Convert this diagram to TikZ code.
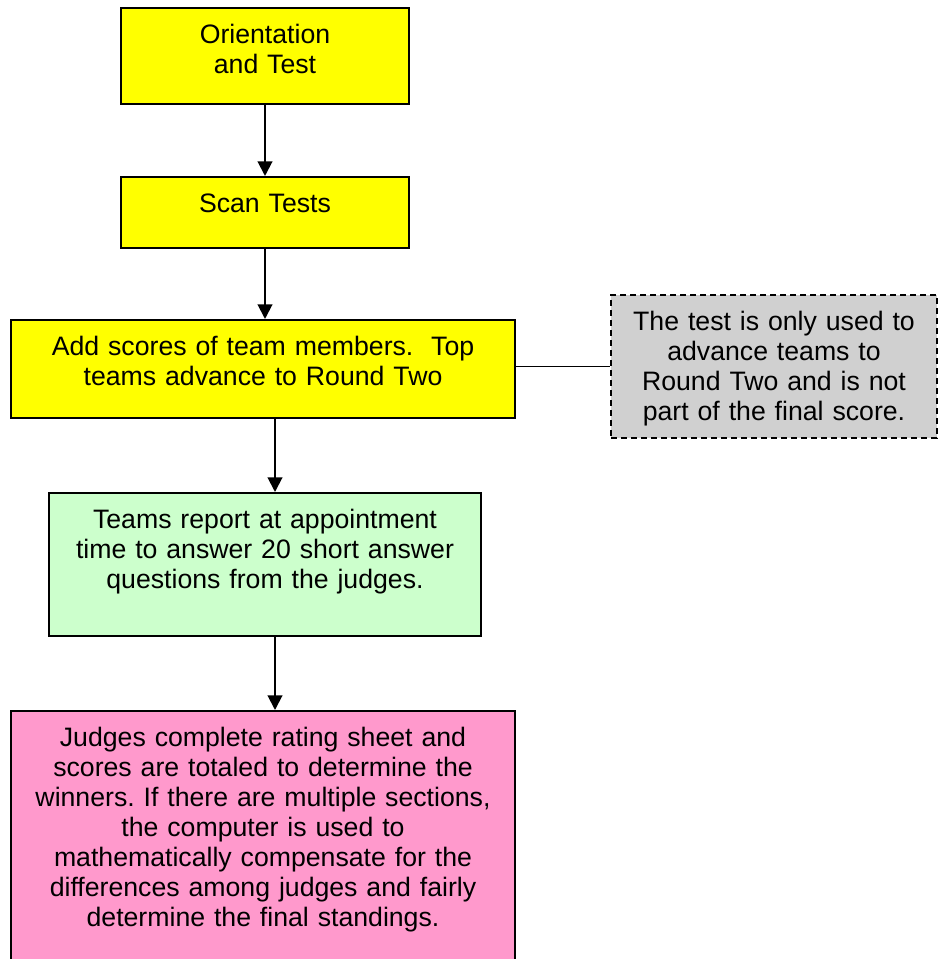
\documentclass[tikz,border=0pt]{standalone}
\usepackage{fontspec}
\setmainfont{Liberation Sans}
\usepackage{tikz}
\usetikzlibrary{positioning,arrows.meta}
\definecolor{stepyellow}{RGB}{255,255,0}
\definecolor{stepgreen}{RGB}{204,255,204}
\definecolor{steppink}{RGB}{255,153,204}
\definecolor{notegray}{RGB}{208,208,208}
\frenchspacing

\begin{document}
\begin{tikzpicture}[
x=0.75pt, y=-0.75pt,
stepbox/.style={
	draw, line width=1.3pt, rectangle,
	inner xsep=0pt, inner ysep=0pt,
	align=center, text height=27pt,
	font=\fontsize{20}{22.5}\selectfont
},
notebox/.style={
	stepbox, line width=1pt, dash pattern=on 4.5pt off 3pt,
	fill=notegray
},
flow/.style={line width=1.5pt, -{Triangle[width=11pt,length=11pt]}}
]
\useasboundingbox (0,0) rectangle (938,959);
\node[stepbox, fill=stepyellow, anchor=north, text width=216pt, text depth=45pt]
	(orient) at (265,7) {Orientation\\and Test};
\node[stepbox, fill=stepyellow, text width=216pt, text depth=26.25pt,
	below=53.45pt of orient] (scan) {Scan Tests};
\node[stepbox, fill=stepyellow, text width=378pt, text depth=46.5pt,
	below=52.7pt of scan, xshift=-1.5pt] (add)
	{Add scores of team members.\ \ Top\\teams advance to Round Two};
\node[notebox, text width=244.5pt, text depth=80.25pt,
	right=70.85pt of add, yshift=1.9pt] (note)
	{The test is only used to\\advance teams to\\Round Two and is not\\part of the final score.};
\node[stepbox, fill=stepgreen, text width=324pt, text depth=80.25pt,
	below=54.95pt of add, xshift=1.5pt] (teams)
	{Teams report at appointment\\time to answer 20 short answer\\questions from the judges.};
\node[stepbox, fill=steppink, text width=378pt, text depth=168pt,
	below=54.95pt of teams, xshift=-1.5pt] (judges)
	{Judges complete rating sheet and\\scores are totaled to determine the\\winners. If there are multiple sections,\\the computer is used to\\mathematically compensate for the\\differences among judges and fairly\\determine the final standings.};
% connectors
\draw[flow] (orient) -- (scan);
\draw[flow] (scan) -- (scan |- add.north);
\draw[flow] ([xshift=9pt]add.south) -- ([xshift=9pt]add.south |- teams.north);
\draw[flow] ([xshift=7.5pt]teams.south) -- ([xshift=7.5pt]teams.south |- judges.north);
\draw[line width=0.8pt] (note.west -| add.east) -- (note.west);
\end{tikzpicture}
\end{document}
